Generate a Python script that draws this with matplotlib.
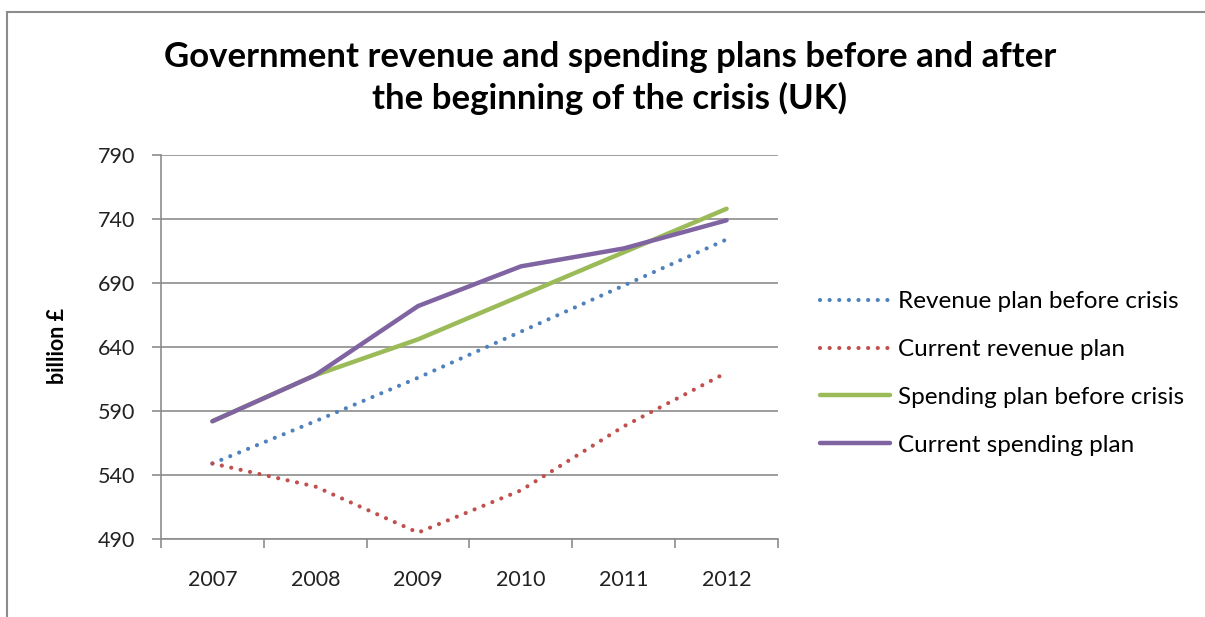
import matplotlib.pyplot as plt
from matplotlib.patches import Rectangle

# ----------------------------------------------------------------------
# data (billion £)
# ----------------------------------------------------------------------
years = ['2007', '2008', '2009', '2010', '2011', '2012']
revenue_before = [549, 582, 616, 652, 688, 724]
revenue_current = [549, 531, 495, 528, 578, 620]
spending_before = [582, 618, 646, 680, 714, 748]
spending_current = [582, 618, 672, 703, 717, 739]

plt.rcParams['font.family'] = ['Lato', 'DejaVu Sans']

W, H = 1205, 617
fig = plt.figure(figsize=(W / 100, H / 100), dpi=100)
ax = fig.add_axes([161 / W, (H - 539) / H, (778 - 161) / W, (539 - 155) / H])

# outer chart border (runs off the right and bottom)
fig.patches.append(Rectangle((7 / W, -0.1), 1.2, (H - 12) / H + 0.1,
                             transform=fig.transFigure, fill=False,
                             edgecolor='#8c8c8c', linewidth=1.5))

x = range(len(years))
dots = dict(linestyle=(0, (0.01, 2.3)), dash_capstyle='round', linewidth=3)
ax.plot(x, revenue_before, color='#4F81BD', label='Revenue plan before crisis', **dots)
ax.plot(x, revenue_current, color='#C0504D', label='Current revenue plan', **dots)
ax.plot(x, spending_before, color='#9BBB59', linewidth=3.2,
        solid_capstyle='round', label='Spending plan before crisis')
ax.plot(x, spending_current, color='#8064A2', linewidth=3.2,
        solid_capstyle='round', label='Current spending plan')

ax.set_xlim(-0.5, len(years) - 0.5)
ax.set_ylim(490, 790)
ax.set_yticks(range(490, 791, 50))
ax.set_xticks(list(x))
ax.set_xticklabels(years)
ax.set_xticks([i - 0.5 for i in range(len(years) + 1)], minor=True)

ax.grid(axis='y', color='#8c8c8c', linewidth=1.2)
ax.set_axisbelow(True)
for side in ['top', 'right']:
    ax.spines[side].set_visible(False)
for side in ['left', 'bottom']:
    ax.spines[side].set_color('#8c8c8c')
    ax.spines[side].set_linewidth(1.2)

ax.tick_params(axis='x', which='major', length=0, pad=22, labelsize=15.5,
               labelcolor='#222222')
ax.tick_params(axis='x', which='minor', length=6.5, color='#8c8c8c', width=1.2)
ax.tick_params(axis='y', length=6.5, color='#8c8c8c', width=1.2, pad=12,
               labelsize=15.5, labelcolor='#222222')

fig.text(58 / W, 1 - 346 / H, 'billion £', rotation=90, ha='center', va='center',
         fontsize=15.5, fontweight='bold')

fig.text(610 / W, 1 - 78 / H, 'Government revenue and spending plans before and after\n'
         'the beginning of the crisis (UK)', ha='center', va='center',
         fontsize=25, fontweight='bold', linespacing=1.3)

ax.legend(loc='center left', bbox_to_anchor=(820 / W, 1 - 373.5 / H),
          bbox_transform=fig.transFigure, frameon=False, borderpad=0,
          borderaxespad=0, fontsize=17.5, handlelength=2.9, handletextpad=0.3,
          labelspacing=1.1)

fig.savefig('out.png', dpi=100)
